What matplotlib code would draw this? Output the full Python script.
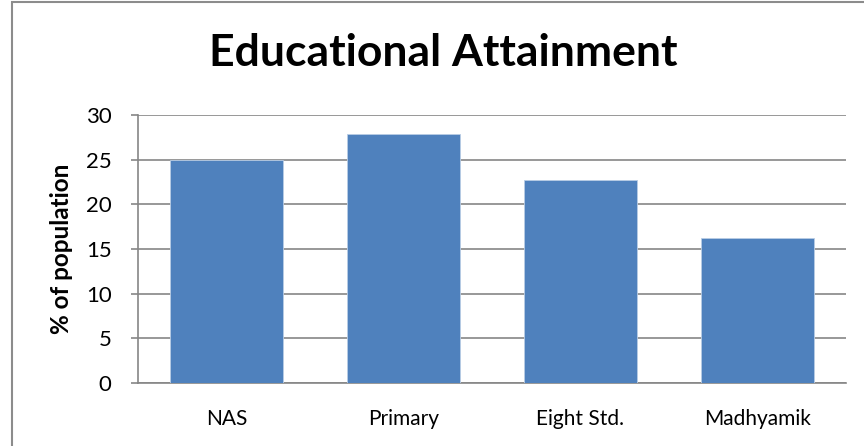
import matplotlib
matplotlib.use("Agg")
import matplotlib.pyplot as plt
from matplotlib.patches import Rectangle

categories = ["NAS", "Primary", "Eight Std.", "Madhyamik"]
values = [25.0, 27.9, 22.7, 16.2]
yticks = [0, 5, 10, 15, 20, 25, 30]

plt.rcParams["font.family"] = ["Lato", "DejaVu Sans"]

fig = plt.figure(figsize=(8.64, 4.46), dpi=100)
W, H = 864, 446

# outer chart frame
fig.patches.append(Rectangle((12 / W, -0.1), 1.2, (H - 2) / H + 0.1,
                             transform=fig.transFigure, fill=False,
                             edgecolor="#8c8c8c", linewidth=1.5))

ax = fig.add_axes([138 / W, (H - 383) / H, (846 - 138) / W, (383 - 115) / H])
x = range(len(categories))
ax.bar(x, values, width=0.64, color="#4F81BD", edgecolor="#b9cde5",
       linewidth=0.6, zorder=3)
ax.set_xlim(-0.5, len(categories) - 0.5)
ax.set_ylim(0, 30)
ax.set_yticks(yticks)
ax.set_yticklabels([str(t) for t in yticks], fontsize=16)
ax.set_xticks(list(x))
ax.set_xticklabels(categories, fontsize=15)
ax.tick_params(axis="x", length=0, pad=19)
ax.tick_params(axis="y", length=5, width=1.2, color="#868686", pad=14)
ax.grid(axis="y", color="#868686", linewidth=1.2, zorder=0)
for side in ("top", "right"):
    ax.spines[side].set_visible(False)
for side in ("left", "bottom"):
    ax.spines[side].set_color("#868686")
    ax.spines[side].set_linewidth(1.2)

ax.set_ylabel("% of population", fontsize=17.5, fontweight="bold", labelpad=9)
fig.text(443 / W, 1 - 53 / H, "Educational Attainment", fontsize=32,
         fontweight="bold", ha="center", va="center")

fig.savefig("out.png", dpi=100)
